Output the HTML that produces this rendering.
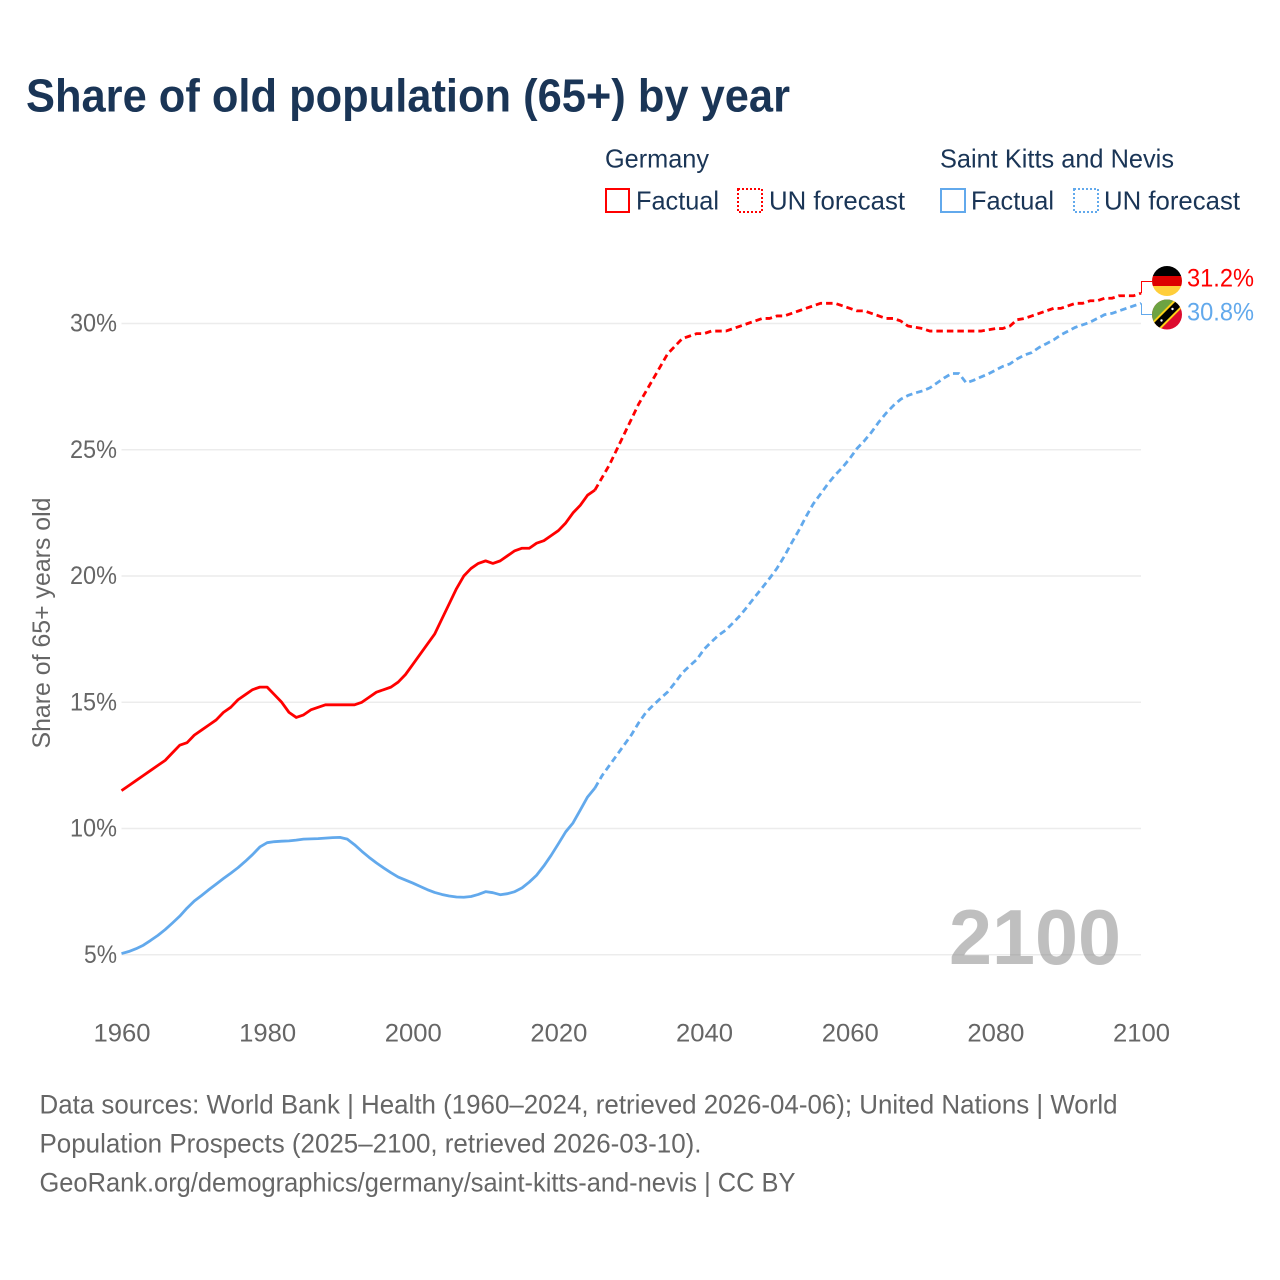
<!DOCTYPE html>
<html lang="en">
<head>
<meta charset="utf-8">
<title>Share of old population (65+) by year</title>
<style>
html,body{margin:0;padding:0;background:#fff;}
svg{display:block;font-family:"Liberation Sans",sans-serif;}
</style>
</head>
<body>
<svg id="chart" xmlns="http://www.w3.org/2000/svg" width="1280" height="1280" viewBox="0 0 1280 1280">
  <defs>
    <clipPath id="flag-clip-de"><circle cx="1167" cy="281" r="15"/></clipPath>
    <clipPath id="flag-clip-kn"><circle cx="1167" cy="314.5" r="15"/></clipPath>
  </defs>
  <rect width="1280" height="1280" fill="#fff"/>
  <text x="26" y="111.5" font-size="46" font-weight="700" fill="#1a3556" textLength="764" lengthAdjust="spacingAndGlyphs">Share of old population (65+) by year</text>

  <g font-size="26" fill="#1a3556">
    <text x="605" y="167.5" textLength="104" lengthAdjust="spacingAndGlyphs">Germany</text>
    <text x="940" y="167.5" textLength="234" lengthAdjust="spacingAndGlyphs">Saint Kitts and Nevis</text>
    <rect x="606" y="189" width="23" height="23" fill="none" stroke="#ff0000" stroke-width="2"/>
    <text x="636" y="209.5" textLength="83" lengthAdjust="spacingAndGlyphs">Factual</text>
    <rect x="738" y="189" width="24" height="23" fill="none" stroke="#ff0000" stroke-width="2" stroke-dasharray="2 2"/>
    <text x="769" y="209.5" textLength="136" lengthAdjust="spacingAndGlyphs">UN forecast</text>
    <rect x="941" y="189" width="24" height="23" fill="none" stroke="#62a9ec" stroke-width="2"/>
    <text x="971" y="209.5" textLength="83" lengthAdjust="spacingAndGlyphs">Factual</text>
    <rect x="1074" y="189" width="24" height="23" fill="none" stroke="#62a9ec" stroke-width="2" stroke-dasharray="2 2"/>
    <text x="1104" y="209.5" textLength="136" lengthAdjust="spacingAndGlyphs">UN forecast</text>
  </g>

  <g id="grid"></g>
  <g id="y-ticks"></g>
  <g id="x-ticks"></g>
  <text transform="translate(50 623) rotate(-90)" text-anchor="middle" font-size="25" fill="#666" textLength="251" lengthAdjust="spacingAndGlyphs">Share of 65+ years old</text>

  <text x="949" y="964" font-size="78" font-weight="700" fill="#808080" fill-opacity="0.5" textLength="172" lengthAdjust="spacingAndGlyphs">2100</text>

  <g id="series"></g>

  <g clip-path="url(#flag-clip-de)">
    <rect x="1152" y="266" width="30" height="10" fill="#000"/>
    <rect x="1152" y="276" width="30" height="10" fill="#dd0000"/>
    <rect x="1152" y="286" width="30" height="10" fill="#ffce3a"/>
  </g>
  <g clip-path="url(#flag-clip-kn)">
    <rect x="1150" y="298" width="34" height="34" fill="#dd0b2e"/>
    <polygon points="1150,298 1182,298 1150,330" fill="#6ca342"/>
    <line x1="1150" y1="332" x2="1184" y2="298" stroke="#fcd116" stroke-width="11"/>
    <line x1="1150" y1="332" x2="1184" y2="298" stroke="#000" stroke-width="7"/>
    <circle cx="1161.5" cy="320.5" r="1.2" fill="#fff"/>
    <circle cx="1172.5" cy="309" r="1.2" fill="#fff"/>
  </g>

  <text id="label-germany" x="1187" y="286.5" font-size="25" fill="#ff0000" textLength="67" lengthAdjust="spacingAndGlyphs"></text>
  <text id="label-kitts" x="1187" y="320.5" font-size="25" fill="#62a9ec" textLength="67" lengthAdjust="spacingAndGlyphs"></text>

  <g font-size="26.5" fill="#666">
    <text x="39.5" y="1113.5" textLength="1078" lengthAdjust="spacingAndGlyphs">Data sources: World Bank | Health (1960–2024, retrieved 2026-04-06); United Nations | World</text>
    <text x="39.5" y="1152.5" textLength="662" lengthAdjust="spacingAndGlyphs">Population Prospects (2025–2100, retrieved 2026-03-10).</text>
    <text x="39.5" y="1191.5" textLength="756" lengthAdjust="spacingAndGlyphs">GeoRank.org/demographics/germany/saint-kitts-and-nevis | CC BY</text>
  </g>
</svg>

<script>
const factualStartYear = 1960;
const forecastStartYear = 2025;
const xTickYears = [1960, 1980, 2000, 2020, 2040, 2060, 2080, 2100];
const yTickValues = [5, 10, 15, 20, 25, 30];

const germanyFactual = [
  11.5,11.7,11.9,12.1,12.3,12.5,12.7,13.0,13.3,13.4,
  13.7,13.9,14.1,14.3,14.6,14.8,15.1,15.3,15.5,15.6,
  15.6,15.3,15.0,14.6,14.4,14.5,14.7,14.8,14.9,14.9,
  14.9,14.9,14.9,15.0,15.2,15.4,15.5,15.6,15.8,16.1,
  16.5,16.9,17.3,17.7,18.3,18.9,19.5,20.0,20.3,20.5,
  20.6,20.5,20.6,20.8,21.0,21.1,21.1,21.3,21.4,21.6,
  21.8,22.1,22.5,22.8,23.2
];
const germanyForecast = [
  23.4,23.9,24.4,25.0,25.6,26.2,26.8,27.3,27.8,28.3,
  28.8,29.1,29.4,29.5,29.6,29.6,29.7,29.7,29.7,29.8,
  29.9,30.0,30.1,30.2,30.2,30.3,30.3,30.4,30.5,30.6,
  30.7,30.8,30.8,30.8,30.7,30.6,30.5,30.5,30.4,30.3,
  30.2,30.2,30.1,29.9,29.85,29.8,29.7,29.7,29.7,29.7,
  29.7,29.7,29.7,29.7,29.75,29.8,29.8,29.9,30.15,30.2,
  30.3,30.4,30.5,30.6,30.6,30.7,30.8,30.8,30.9,30.9,
  31.0,31.0,31.1,31.1,31.1,31.2
];
const kittsFactual = [
  5.05,5.13,5.24,5.38,5.57,5.77,6.0,6.26,6.53,6.85,
  7.13,7.35,7.58,7.8,8.02,8.23,8.45,8.7,8.97,9.27,
  9.44,9.48,9.5,9.51,9.54,9.58,9.59,9.6,9.62,9.64,
  9.65,9.58,9.36,9.1,8.86,8.64,8.44,8.25,8.08,7.96,
  7.84,7.71,7.58,7.47,7.39,7.33,7.29,7.28,7.31,7.39,
  7.5,7.46,7.38,7.42,7.5,7.65,7.88,8.15,8.52,8.94,
  9.4,9.87,10.22,10.73,11.25
];
const kittsForecast = [
  11.6,12.1,12.5,12.9,13.3,13.7,14.18,14.59,14.88,15.15,
  15.41,15.77,16.16,16.44,16.69,17.1,17.39,17.66,17.86,18.15,
  18.45,18.81,19.18,19.54,19.91,20.3,20.77,21.3,21.8,22.35,
  22.86,23.25,23.65,24.0,24.3,24.65,25.05,25.35,25.7,26.1,
  26.45,26.75,27.0,27.15,27.25,27.33,27.45,27.65,27.85,28.02,
  28.02,27.65,27.75,27.88,28.0,28.15,28.3,28.4,28.6,28.75,
  28.85,29.05,29.2,29.35,29.55,29.7,29.85,29.95,30.05,30.2,
  30.35,30.4,30.5,30.6,30.7,30.8
];

const SVG_NS = 'http://www.w3.org/2000/svg';
const xScale = function (year) { return 121.5 + (year - 1960) * (1141 - 121.5) / 140; };
const yScale = function (value) { return 954.8 - (value - 5) * (954.8 - 323.5) / 25; };

function linePath(startYear, values) {
  return values.map(function (v, i) {
    return (i ? 'L' : 'M') + xScale(startYear + i).toFixed(2) + ' ' + yScale(v).toFixed(2);
  }).join(' ');
}

function seriesPath(d, color, dash) {
  const p = document.createElementNS(SVG_NS, 'path');
  p.setAttribute('d', d);
  p.setAttribute('fill', 'none');
  p.setAttribute('stroke', color);
  p.setAttribute('stroke-width', '2.8');
  p.setAttribute('stroke-linejoin', 'round');
  if (dash) p.setAttribute('stroke-dasharray', dash);
  document.getElementById('series').appendChild(p);
  return p;
}

yTickValues.forEach(function (v) {
  const line = document.createElementNS(SVG_NS, 'line');
  
  
  line.setAttribute('x1', xScale(1960));
  line.setAttribute('x2', xScale(2100));
  line.setAttribute('y1', yScale(v));
  line.setAttribute('y2', yScale(v));
  line.setAttribute('stroke', '#ececec');
  line.setAttribute('stroke-width', '1.5');
  document.getElementById('grid').appendChild(line);

  const t = document.createElementNS(SVG_NS, 'text');
  
  
  t.setAttribute('x', 117);
  t.setAttribute('y', yScale(v) + 8);
  t.setAttribute('text-anchor', 'end');
  t.setAttribute('font-size', '25');
  t.setAttribute('fill', '#666');
  t.setAttribute('textLength', String(v).length * 14 + 19);
  t.setAttribute('lengthAdjust', 'spacingAndGlyphs');
  t.textContent = v + '%';
  document.getElementById('y-ticks').appendChild(t);
});

xTickYears.forEach(function (year) {
  const t = document.createElementNS(SVG_NS, 'text');
  
  
  t.setAttribute('x', xScale(year) + 0.5);
  t.setAttribute('y', 1041.5);
  t.setAttribute('text-anchor', 'middle');
  t.setAttribute('font-size', '25');
  t.setAttribute('fill', '#666');
  t.setAttribute('textLength', '57');
  t.setAttribute('lengthAdjust', 'spacingAndGlyphs');
  t.textContent = year;
  document.getElementById('x-ticks').appendChild(t);
});

const germanySolid = seriesPath(linePath(factualStartYear, germanyFactual.concat(germanyForecast[0])), '#ff0000');



const germanyDashed = seriesPath(linePath(forecastStartYear, germanyForecast), '#ff0000', '6.5 4');



const kittsSolid = seriesPath(linePath(factualStartYear, kittsFactual.concat(kittsForecast[0])), '#62a9ec');



const kittsDashed = seriesPath(linePath(forecastStartYear, kittsForecast), '#62a9ec', '6.5 4');



const germanyLast = germanyForecast[germanyForecast.length - 1];
const kittsLast = kittsForecast[kittsForecast.length - 1];

const germanyConnector = document.createElementNS(SVG_NS, 'path');


germanyConnector.setAttribute('d', 'M1141.5 ' + yScale(germanyLast) + ' V281.5 H1152');
germanyConnector.setAttribute('fill', 'none');
germanyConnector.setAttribute('stroke', '#ff0000');
germanyConnector.setAttribute('stroke-width', '1');
document.getElementById('series').appendChild(germanyConnector);

const kittsConnector = document.createElementNS(SVG_NS, 'path');


kittsConnector.setAttribute('d', 'M1141.5 ' + yScale(kittsLast) + ' V314.5 H1152');
kittsConnector.setAttribute('fill', 'none');
kittsConnector.setAttribute('stroke', '#62a9ec');
kittsConnector.setAttribute('stroke-width', '1');
document.getElementById('series').appendChild(kittsConnector);

document.getElementById('label-germany').textContent = germanyLast.toFixed(1) + '%';
document.getElementById('label-kitts').textContent = kittsLast.toFixed(1) + '%';
</script>
</body>
</html>
